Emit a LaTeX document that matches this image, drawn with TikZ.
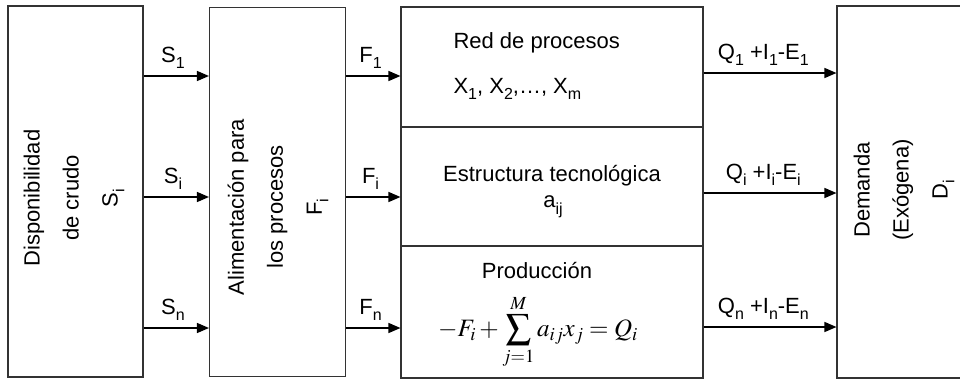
\documentclass[tikz,border=0pt]{standalone}
\usepackage{mathptmx}
\usepackage{fontspec}
\setmainfont{Liberation Sans}
\usetikzlibrary{positioning,arrows.meta,calc}

\newcommand{\sbi}[1]{\raisebox{-0.3em}{\fontsize{16}{16}\selectfont #1}}

\begin{document}
\begin{tikzpicture}[x=1pt,y=-1pt,
  font=\fontsize{22}{26}\selectfont,
  caja/.style={draw=black!80, line width=1.1pt, inner sep=0pt},
  vert/.style={rotate=90, align=center, font=\fontsize{22}{39}\selectfont},
  flecha/.style={-{Triangle[length=12pt,width=10pt]}, line width=1.4pt},
  etiq/.style={above=3pt, pos=0.45}]
\useasboundingbox (0,0) rectangle (960,380);
% Bloques principales
\node[caja, minimum width=135pt, minimum height=371pt] (disp) at (75.5,191.5) {};
\node[caja, minimum width=136pt, minimum height=369pt] (alim) at (277.5,192) {};
\node[caja, minimum width=302pt, minimum height=120pt] (red) at (552,67) {};
\node[caja, minimum width=302pt, minimum height=119pt] (est) at (552,186.5) {};
\node[caja, minimum width=302pt, minimum height=132pt] (prod) at (552,312) {};
\node[caja, minimum width=140pt, minimum height=372pt] (dem) at (907,192) {};
% Textos verticales
\node[vert] (tdisp) at (74,198) {Disponibilidad\\de crudo\\S\sbi{i}};
\node[vert] (talim) at (278,207) {Alimentación para\\los procesos\\F\sbi{i}};
\node[vert] (tdem) at (904,190) {Demanda\\(Exógena)\\D\sbi{i}};
% Red de procesos
\node[anchor=west] (tred) at (450,43) {Red de procesos};
\node[anchor=west] (txs) at (450,89) {X\sbi{1}, X\sbi{2},…, X\sbi{m}};
\node (test) at (552,176) {Estructura tecnológica};
\node (taij) at (553,207) {a\sbi{ij}};
\node (tprod) at (537,271) {Producción};
\node[font=\fontsize{25}{30}\selectfont] (tform) at (538,332)
  {$\displaystyle -F_i+\sum_{j=1}^{M} a_{ij}x_j = Q_i$};
% Flujos
\foreach \ya/\yb/\k in {76/73/1,197/193/i,328/327/n} {
  \draw[flecha] (disp.east |- 0,\ya) -- node[etiq] {S\sbi{\k}} (alim.west |- 0,\ya);
  \draw[flecha] (alim.east |- 0,\ya) -- node[etiq] {F\sbi{\k}} (red.west |- 0,\ya);
  \draw[flecha] (red.east |- 0,\yb) -- node[etiq] {Q\sbi{\k} +I\sbi{\k}-E\sbi{\k}} (dem.west |- 0,\yb);
}
\end{tikzpicture}
\end{document}
